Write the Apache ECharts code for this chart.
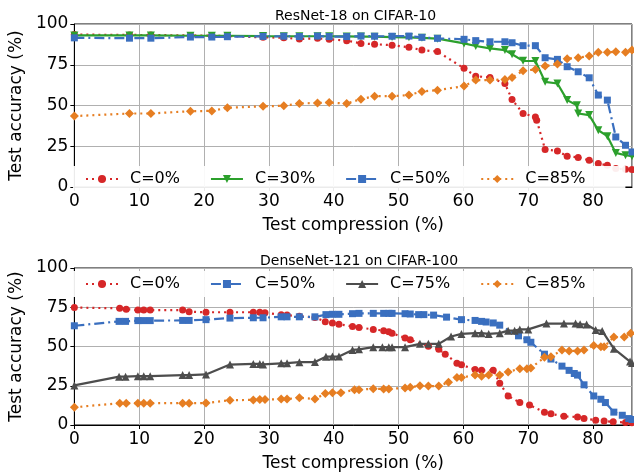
<!DOCTYPE html>
<html>
<head>
<meta charset="utf-8">
<script src="https://cdn.jsdelivr.net/npm/echarts@6/dist/echarts.min.js"></script>
<style>html,body{margin:0;padding:0;background:#fff}#c{width:634px;height:473px}</style>
</head>
<body>
<div id="c"></div>
<script>
// ---- Data ----
const titles = ['ResNet-18 on CIFAR-10', 'DenseNet-121 on CIFAR-100'];
const xTicks = [0, 10, 20, 30, 40, 50, 60, 70, 80];
const yTicks = [0, 25, 50, 75, 100];
const topNames = ['C=0%', 'C=30%', 'C=50%', 'C=85%'];
const botNames = ['C=0%', 'C=50%', 'C=75%', 'C=85%'];

// ResNet-18 on CIFAR-10: [test compression, test accuracy]
const topC0 = [[0,93.5],[8.5,93.3],[11.8,93.2],[17.9,93.0],[21.2,92.8],[23.6,92.6],[29.1,91.8],[32.3,91.6],[34.7,90.8],[37.5,91.2],[39.3,90.6],[42,89.8],[44.2,88.1],[46.3,87.6],[49,87.0],[51.6,85.7],[53.6,84.0],[56,83.1],[60.1,72.8],[61.9,68.0],[64.1,67.2],[66.4,63.5],[67.5,53.7],[69.2,45.1],[71.1,43.0],[71.3,41.0],[72.6,23.0],[74.5,22.1],[76,18.9],[77.7,18.1],[79.4,16.4],[80.8,14.4],[82.2,13.3],[83.5,11.3],[85,10.9],[86,10.7]];
const topC30 = [[0,93.0],[8.5,93.0],[11.8,93.0],[17.9,92.8],[21.2,92.8],[23.6,92.8],[29.1,92.6],[32.3,92.5],[34.7,92.5],[37.5,92.5],[39.3,92.5],[42,92.4],[44.2,92.3],[46.3,92.2],[49,92.0],[51.6,91.8],[53.6,91.5],[56,91.0],[60.1,88.1],[61.9,86.5],[64.1,85.0],[66.4,84.0],[67.5,81.4],[69.2,77.4],[71.1,77.3],[72.6,64.5],[74.5,63.5],[76,53.3],[77.5,50.2],[77.7,45.1],[79.4,44.1],[80.8,34.8],[82.2,31.2],[83.5,20.9],[85,19.5],[86,18.9]];
const topC50 = [[0,91.5],[8.5,91.3],[11.8,91.3],[17.9,92.0],[21.2,92.0],[23.6,92.2],[29.1,92.4],[32.3,92.5],[34.7,92.3],[37.5,92.6],[39.3,92.3],[42,92.3],[44.2,92.6],[46.3,92.5],[49,92.5],[51.6,92.6],[53.6,91.8],[56,91.2],[60.1,90.6],[61.9,89.8],[64.1,89.1],[66.4,89.1],[67.5,88.5],[69.2,86.7],[71.1,86.7],[72.6,79.3],[74.5,78.3],[76,73.8],[77.7,70.7],[79.4,67.0],[80.8,56.4],[82.2,53.3],[83.5,30.7],[85,25.6],[86,21.5]];
const topC85 = [[0,43.5],[8.5,45.1],[11.8,45.1],[17.9,46.5],[21.2,46.7],[23.6,48.6],[29.1,49.5],[32.3,49.8],[34.7,51.2],[37.5,51.6],[39.3,51.8],[42,51.2],[44.2,53.9],[46.3,55.7],[49,55.7],[51.6,56.4],[53.6,58.6],[56,59.4],[60.1,61.9],[61.9,65.6],[64.1,65.6],[66.4,66.0],[67.5,67.2],[69.2,71.3],[71.1,72.1],[72.6,74.2],[74.5,75.4],[76,78.7],[77.7,79.3],[79.4,80.3],[80.8,82.6],[82.2,82.6],[83.5,83.0],[85,82.6],[86,84.0]];

// DenseNet-121 on CIFAR-100: [test compression, test accuracy]
const botC0 = [[0,74.8],[7.0,74.3],[8.0,73.8],[9.8,73.2],[10.7,73.2],[11.7,73.2],[16.7,73.2],[17.7,72.2],[20.3,71.8],[24.0,71.8],[27.6,71.8],[28.6,71.8],[29.4,71.5],[31.9,70.2],[32.8,70.0],[34.7,69.3],[37.1,68.5],[38.7,65.8],[39.8,65.0],[40.8,64.2],[42.9,62.7],[43.9,62.1],[46.1,60.9],[47.7,60.1],[48.5,59.4],[49.0,58.5],[51.0,55.4],[51.8,54.3],[54.6,50.2],[56.2,48.2],[57.2,45.1],[59.0,39.4],[59.7,38.3],[61.8,35.3],[62.8,34.8],[64.6,34.8],[65.6,26.6],[66.9,18.5],[68.7,14.3],[70.2,12.7],[72.5,8.2],[73.5,7.1],[75.5,5.5],[77.6,5.1],[78.6,4.1],[80.4,3.1],[81.7,2.6],[83.1,2.0],[85.0,1.6],[86,1.5]];
const botC50 = [[0,63.2],[6.9,66.0],[7.9,66.0],[9.8,66.5],[10.7,66.5],[11.7,66.5],[16.7,66.6],[17.7,66.6],[20.3,67.1],[24.0,68.1],[27.6,68.3],[29.1,68.3],[31.9,68.9],[32.8,68.9],[34.7,68.9],[37.1,68.9],[38.8,70.3],[39.8,70.5],[40.8,70.5],[42.9,70.9],[43.9,71.1],[46.1,71.1],[47.7,71.1],[48.5,71.1],[49.0,71.1],[51.0,70.9],[51.8,70.7],[53.1,70.3],[53.9,70.3],[55.4,70.0],[57.4,68.7],[59.7,67.1],[61.8,66.6],[62.8,66.0],[63.5,65.6],[64.6,65.0],[65.6,63.6],[68.5,56.8],[69.8,54.3],[70.4,52.7],[72.5,45.1],[73.5,42.0],[75.2,37.5],[76.3,34.8],[77.1,32.8],[77.6,31.8],[78.6,25.6],[80.1,18.5],[81.2,16.4],[81.9,14.3],[83.2,8.2],[84.5,6.2],[85.5,4.1],[86,3.5]];
const botC75 = [[0,25.2],[6.9,30.8],[7.9,30.8],[9.8,31.1],[10.7,31.1],[11.7,31.1],[16.7,31.8],[17.7,31.8],[20.3,32.2],[24.0,38.5],[27.6,38.9],[28.6,38.9],[29.1,38.6],[31.9,39.3],[32.8,39.4],[34.7,40.0],[37.1,40.1],[38.8,43.5],[39.8,43.6],[40.8,43.6],[42.9,47.8],[43.9,48.2],[46.1,49.6],[47.5,49.6],[48.5,49.6],[49.0,49.6],[51.0,49.6],[53.3,51.7],[54.6,51.7],[56.2,51.7],[58.1,56.4],[59.7,58.0],[61.8,58.5],[62.8,58.5],[63.9,58.0],[65.6,58.5],[66.9,60.1],[67.9,60.1],[68.7,60.9],[70.0,60.9],[72.8,64.6],[75.5,64.6],[77.3,64.6],[78.0,64.2],[79.0,64.0],[80.4,60.5],[81.4,59.9],[83.2,48.6],[85.7,40.4],[86,39.5]];
const botC85 = [[0,11.3],[7,13.9],[8,13.9],[9.8,13.9],[10.7,13.9],[11.7,13.9],[16.7,13.9],[17.7,13.9],[20.3,14.0],[24.0,15.8],[27.6,16.0],[28.6,16.2],[29.4,16.2],[31.9,16.5],[32.8,16.5],[34.7,17.4],[37.1,16.6],[38.7,20.0],[39.8,20.5],[41.1,20.5],[43.2,22.5],[43.9,22.5],[46.1,23.1],[47.7,23.0],[48.5,23.0],[51.0,23.6],[51.8,24.0],[53.3,25.0],[54.6,24.8],[56.2,24.8],[57.7,27.3],[59.0,30.2],[59.7,30.2],[61.8,31.8],[62.8,31.1],[63.9,31.8],[65.6,31.8],[66.9,33.8],[68.7,35.9],[69.8,35.9],[70.4,36.3],[72.5,43.1],[73.5,43.4],[75.2,47.8],[76.3,47.2],[77.6,47.2],[78.6,47.8],[80.1,50.6],[81.2,49.8],[81.7,49.8],[83.2,56.0],[84.8,56.0],[85.8,58.5]];

// ---- Styles ----
const FONT = 'DejaVu Sans';
const RED = '#d62728', GREEN = '#2ca02c', BLUE = '#3a6fbf', ORANGE = '#e67e22', GRAY = '#4d4d4d';
const DOT = [2, 4];
const DASHDOT = [10, 4, 2, 4];
const SIZES = { circle: 7, rect: 7, triangle: 8, diamond: 9 };

function mk(name, data, gi, color, lineType, symbol, rotate) {
  return {
    name: name, type: 'line', data: data,
    xAxisIndex: gi, yAxisIndex: gi,
    symbol: symbol, symbolSize: SIZES[symbol], symbolRotate: rotate || 0,
    showAllSymbol: true, clip: true, animation: false,
    lineStyle: { color: color, width: 2.2, type: lineType },
    itemStyle: { color: color, borderWidth: 0 },
    emphasis: { disabled: true }
  };
}

function xAx(gi) {
  return {
    type: 'value', gridIndex: gi, min: 0, max: 86, interval: 10,
    name: 'Test compression (%)', nameLocation: 'middle', nameGap: 30,
    nameTextStyle: { fontFamily: FONT, fontSize: 17, color: '#000' },
    axisLine: { show: true, lineStyle: { color: '#000', width: 1 } },
    axisTick: { show: true, length: 4, lineStyle: { color: '#000' } },
    axisLabel: { fontFamily: FONT, fontSize: 17, color: '#000', margin: 6, showMaxLabel: false,
      formatter: v => (xTicks.indexOf(v) >= 0 ? String(v) : '') },
    splitLine: { show: true, lineStyle: { color: '#b0b0b0', width: 1 } }
  };
}
function yAx(gi) {
  return {
    type: 'value', gridIndex: gi, min: 0, max: 100, interval: 25,
    name: 'Test accuracy (%)', nameLocation: 'middle', nameGap: 43,
    nameTextStyle: { fontFamily: FONT, fontSize: 17, color: '#000' },
    axisLine: { show: true, lineStyle: { color: '#000', width: 1 } },
    axisTick: { show: true, length: 4, lineStyle: { color: '#000' } },
    axisLabel: { fontFamily: FONT, fontSize: 17, color: '#000', margin: 6,
      formatter: v => (yTicks.indexOf(v) >= 0 ? String(v) : '') },
    splitLine: { show: true, lineStyle: { color: '#b0b0b0', width: 1 } }
  };
}
function leg(names, top) {
  return {
    data: names, left: 73, top: top, orient: 'horizontal',
    itemWidth: 32, itemHeight: 10, itemGap: 30,
    padding: [5, 40, 5, 12],
    backgroundColor: 'rgba(255,255,255,0.92)',
    textStyle: { fontFamily: FONT, fontSize: 16, color: '#000', padding: [0, 0, 0, 7] },
    selectedMode: false
  };
}

const chart = echarts.init(document.getElementById('c'), null, { renderer: 'canvas' });
chart.setOption({
  animation: false,
  backgroundColor: '#fff',
  title: [
    { text: titles[0], left: 270, top: 4, textStyle: { fontFamily: FONT, fontSize: 14, fontWeight: 'normal', color: '#000' } },
    { text: titles[1], left: 255, top: 249, textStyle: { fontFamily: FONT, fontSize: 14, fontWeight: 'normal', color: '#000' } }
  ],
  grid: [
    { left: 70, top: 24, width: 562, height: 163, show: true, borderColor: '#000', borderWidth: 1, backgroundColor: 'transparent' },
    { left: 70, top: 268, width: 562, height: 162, show: true, borderColor: '#000', borderWidth: 1, backgroundColor: 'transparent' }
  ],
  xAxis: [xAx(0), xAx(1)],
  yAxis: [yAx(0), yAx(1)],
  legend: [leg(topNames, 166), leg(botNames, 271)],
  series: [
    mk(topNames[0], topC0, 0, RED, DOT, 'circle'),
    mk(topNames[1], topC30, 0, GREEN, 'solid', 'triangle', 180),
    mk(topNames[2], topC50, 0, BLUE, DASHDOT, 'rect'),
    mk(topNames[3], topC85, 0, ORANGE, DOT, 'diamond'),
    mk(botNames[0], botC0, 1, RED, DOT, 'circle'),
    mk(botNames[1], botC50, 1, BLUE, DASHDOT, 'rect'),
    mk(botNames[2], botC75, 1, GRAY, 'solid', 'triangle'),
    mk(botNames[3], botC85, 1, ORANGE, DOT, 'diamond')
  ]
});
</script>
</body>
</html>
